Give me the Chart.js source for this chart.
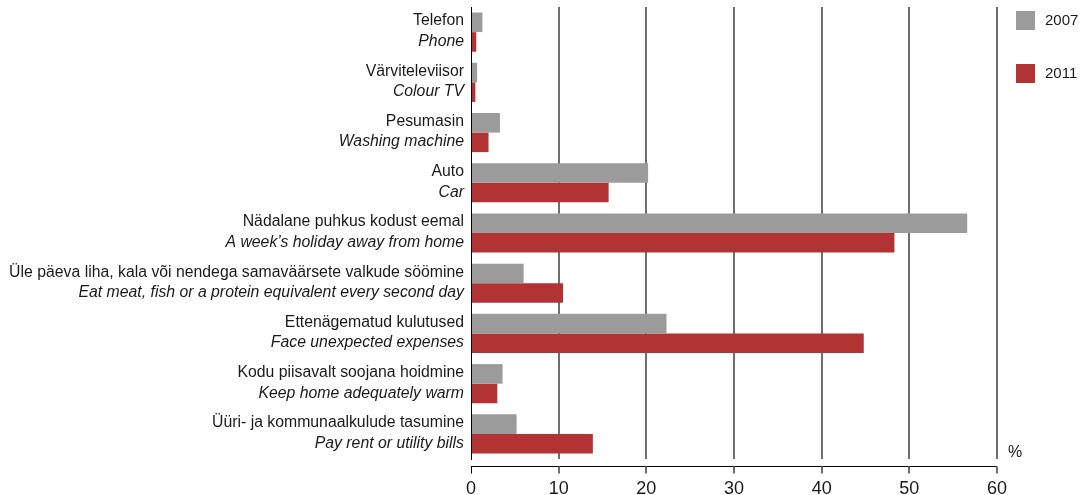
<!DOCTYPE html>
<html>
<head>
<meta charset="utf-8">
<script src="https://cdn.jsdelivr.net/npm/chart.js@4/dist/chart.umd.min.js"></script>
<style>
  html, body { margin: 0; padding: 0; background: #fff; }
  #wrap { width: 1089px; height: 495px; position: relative; }
</style>
</head>
<body>
<div id="wrap"><canvas id="c" width="1089" height="495"></canvas></div>
<script>
const categoriesEt = [
  "Telefon",
  "Värviteleviisor",
  "Pesumasin",
  "Auto",
  "Nädalane puhkus kodust eemal",
  "Üle päeva liha, kala või nendega samaväärsete valkude söömine",
  "Ettenägematud kulutused",
  "Kodu piisavalt soojana hoidmine",
  "Üüri- ja kommunaalkulude tasumine"
];
const categoriesEn = [
  "Phone",
  "Colour TV",
  "Washing machine",
  "Car",
  "A week’s holiday away from home",
  "Eat meat, fish or a protein equivalent every second day",
  "Face unexpected expenses",
  "Keep home adequately warm",
  "Pay rent or utility bills"
];
const seriesNames = ["2007", "2011"];
const values2007 = [1.3, 0.7, 3.3, 20.2, 56.6, 6.0, 22.3, 3.6, 5.2];
const values2011 = [0.6, 0.5, 2.0, 15.7, 48.3, 10.5, 44.8, 3.0, 13.9];
const xTickValues = [0, 10, 20, 30, 40, 50, 60];
const unitLabel = "%";

const FONT = "'Liberation Sans', Arial, Helvetica, sans-serif";
const TEXT = "#1a1a1a";
const GRID = "#6e6e6e";

const labelsPlugin = {
  id: 'customLabels',
  afterDraw(chart) {
    const ctx = chart.ctx;
    const y = chart.scales.y;
    const x = chart.scales.x;
    const area = chart.chartArea;
    ctx.save();
    // category labels (two lines, second italic)
    ctx.fillStyle = TEXT;
    ctx.textAlign = 'right';
    ctx.textBaseline = 'middle';
    const lx = area.left - 7;
    for (let i = 0; i < categoriesEt.length; i++) {
      const py = y.getPixelForValue(i);
      ctx.font = "15.8px " + FONT;
      ctx.fillText(categoriesEt[i], lx, py - 11);
      ctx.font = "italic 15.8px " + FONT;
      ctx.fillText(categoriesEn[i], lx, py + 9.5);
    }
    // x axis line (offset below plot) with ticks
    const ay = area.bottom + 7.5;
    ctx.strokeStyle = '#000';
    ctx.lineWidth = 1;
    ctx.beginPath();
    ctx.moveTo(x.getPixelForValue(xTickValues[0]), ay);
    ctx.lineTo(x.getPixelForValue(xTickValues[xTickValues.length - 1]), ay);
    ctx.stroke();
    for (const v of xTickValues) {
      const px = Math.round(x.getPixelForValue(v));
      ctx.strokeStyle = v === 0 ? '#000' : GRID;
      ctx.lineWidth = v === 0 ? 1 : 2;
      ctx.beginPath();
      ctx.moveTo(v === 0 ? px + 0.5 : px, ay);
      ctx.lineTo(v === 0 ? px + 0.5 : px, ay + 7);
      ctx.stroke();
    }
    // unit label
    ctx.font = "16px " + FONT;
    ctx.textAlign = 'left';
    ctx.fillStyle = TEXT;
    ctx.fillText(unitLabel, area.right + 11, area.bottom - 6);
    // legend
    const ds = chart.data.datasets;
    for (let i = 0; i < ds.length; i++) {
      const top = area.top + 4 + i * 53;
      ctx.fillStyle = ds[i].backgroundColor;
      ctx.fillRect(area.right + 19, top, 19, 19);
      ctx.fillStyle = TEXT;
      ctx.font = "15px " + FONT;
      ctx.textBaseline = 'middle';
      ctx.fillText(ds[i].label, area.right + 48, top + 9.5);
    }
    ctx.restore();
  }
};

new Chart(document.getElementById('c'), {
  type: 'bar',
  data: {
    labels: categoriesEt,
    datasets: [
      { label: seriesNames[0], data: values2007, backgroundColor: '#9b9b9b', borderWidth: 0 },
      { label: seriesNames[1], data: values2011, backgroundColor: '#b23334', borderWidth: 0 }
    ]
  },
  options: {
    indexAxis: 'y',
    responsive: false,
    animation: false,
    devicePixelRatio: 1,
    layout: { padding: { top: 7, right: 92, bottom: 0, left: 0 } },
    plugins: { legend: { display: false }, tooltip: { enabled: false } },
    datasets: { bar: { categoryPercentage: 0.78, barPercentage: 1.0 } },
    scales: {
      x: {
        min: 0, max: 60,
        afterBuildTicks(scale) { scale.ticks = xTickValues.map(v => ({ value: v })); },
        afterFit(scale) { scale.height = 36; },
        border: { display: false },
        grid: {
          drawTicks: false,
          lineWidth: 2,
          color: ctx => ctx.tick && ctx.tick.value === 0 ? 'rgba(0,0,0,0)' : GRID
        },
        ticks: {
          padding: 19,
          color: TEXT,
          font: { family: FONT, size: 18 },
          maxRotation: 0
        }
      },
      y: {
        afterFit(scale) { scale.width = 471; },
        border: { display: true, color: '#000', width: 1 },
        grid: { display: false },
        ticks: { display: false }
      }
    }
  },
  plugins: [labelsPlugin]
});
</script>
</body>
</html>
